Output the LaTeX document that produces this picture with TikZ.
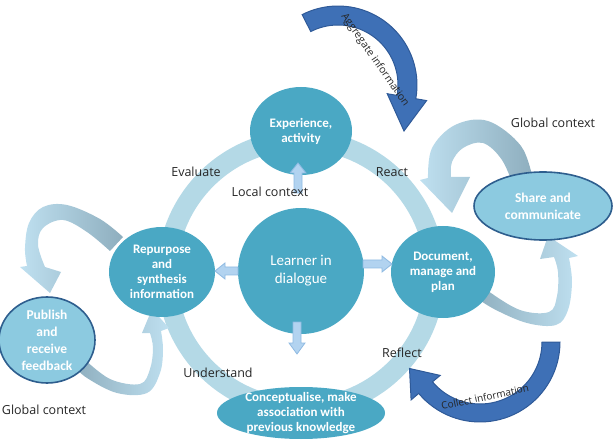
\documentclass[tikz,border=0pt]{standalone}
\usepackage{fontspec}
\setmainfont{Carlito}
\newfontfamily\hand{Open Sans}
\usetikzlibrary{shapes.geometric}
\definecolor{circ}{HTML}{4AA8C4}
\definecolor{ringc}{HTML}{B4D9E6}
\definecolor{ellfill}{HTML}{8CCAE0}
\definecolor{ellborder}{HTML}{2E5E8E}
\definecolor{darkarrow}{HTML}{3E70B6}
\definecolor{darkborder}{HTML}{2F5A98}
\definecolor{banddark}{HTML}{8EAEBE}
\definecolor{bandlight}{HTML}{BFE0F0}
\definecolor{smallfill}{HTML}{B2D3F0}
\definecolor{smallborder}{HTML}{8FBAE2}
\begin{document}
\begin{tikzpicture}[x=1pt,y=-1pt,
  circshape/.style={ellipse, fill=circ, draw=none, inner sep=0pt},
  ellshape/.style={ellipse, fill=ellfill, draw=ellborder, line width=1.6pt, inner sep=0pt},
  txt/.style={text=white, align=center, font=\bfseries\fontsize{13}{15}\selectfont, inner sep=0pt},
  lab/.style={font=\hand\fontsize{12.5}{14}\selectfont, text=black!85, inner sep=0pt},
  smallarrow/.style={fill=smallfill, draw=smallborder, line width=0.8pt},
  bigarrow/.style={fill=darkarrow, draw=darkborder, line width=1pt},
]
\useasboundingbox (0,0) rectangle (614,441);

% ring
\draw[ringc, line width=20pt] (301,274) circle (134);

% grey bands
\shade[left color=bandlight, right color=banddark]
 plot[smooth, tension=0.6] coordinates {(533,180) (521,146) (488,121) (455,125) (432,148) (428,178)}
 -- (420,180) -- (452,213) -- (470,177)
 -- plot[smooth, tension=0.6] coordinates {(451,177) (452,162) (463,148) (483,143) (502,160) (515,190)}
 -- cycle;
\shade[left color=banddark, right color=bandlight]
 plot[smooth, tension=0.6] coordinates {(474,296) (494,309) (527,323) (556,325) (568,310) (572,282) (569,258)}
 -- (578,256) -- (548,236) -- (540,259)
 -- plot[smooth, tension=0.6] coordinates {(554,257) (558,272) (557,296) (549,312) (520,310) (488,291) (484,286)}
 -- cycle;
\shade[left color=bandlight, right color=banddark]
 plot[smooth, tension=0.6] coordinates {(123,237) (100,219) (67,205) (43,207) (29,223) (25,248) (27,266)}
 -- (20,267) -- (50,293) -- (61,272)
 -- plot[smooth, tension=0.6] coordinates {(45,267) (38,245) (43,228) (63,220) (87,232) (110,251)}
 -- cycle;
\shade[left color=banddark, right color=bandlight]
 plot[smooth, tension=0.6] coordinates {(74,366) (87,378) (117,393) (147,393) (160,373) (163,350) (161,331)}
 -- (169,328) -- (152,309) -- (142,333)
 -- plot[smooth, tension=0.6] coordinates {(150,333) (153,348) (150,369) (140,384) (110,379) (83,358)}
 -- cycle;

% nodes
\node[circshape, minimum width=102pt, minimum height=88pt] (exp) at (301,131) {};
\node[txt] at (exp) {Experience,\\activity};
\node[circshape, minimum width=126pt, minimum height=126pt] (learner) at (301,271) {};
\node[txt, font=\fontsize{15}{18}\selectfont] at (learner) {Learner in\\dialogue};
\node[circshape, minimum width=106pt, minimum height=90pt] (rep) at (162,272) {};
\node[txt] at (rep) {Repurpose\\and\\synthesis\\information};
\node[circshape, minimum width=104pt, minimum height=92pt] (doc) at (443,272) {};
\node[txt] at (doc) {Document,\\manage and\\plan};
\node[ellshape, minimum width=138pt, minimum height=68pt] (share) at (543,206) {};
\node[txt, font=\bfseries\fontsize{13.5}{17}\selectfont] at (share) {Share and\\communicate};
\node[ellshape, minimum width=96pt, minimum height=86pt] (pub) at (47,340) {};
\node[txt, font=\bfseries\fontsize{13.5}{17}\selectfont] at (pub) {Publish\\and\\receive\\feedback};
\node[circshape, minimum width=168pt, minimum height=52pt] (concept) at (301,413) {};
\node[txt] at (concept) {Conceptualise, make\\association with\\previous knowledge};

% small arrows from the learner
\draw[smallarrow] (294,193)--(294,173)--(290,173)--(298,163)--(306,173)--(302,173)--(302,193)--cycle;
\draw[smallarrow] (293,322)--(293,343)--(289,343)--(297,354)--(305,343)--(301,343)--(301,322)--cycle;
\draw[smallarrow] (238,267)--(225,267)--(225,263)--(215,271)--(225,279)--(225,275)--(238,275)--cycle;
\draw[smallarrow] (363,260)--(382,260)--(382,256)--(392,264)--(382,272)--(382,268)--(363,268)--cycle;

% big dark arrows
\draw[bigarrow] plot[domain=243:370, samples=40] ({338+79*cos(\x)},{85+79*sin(\x)})
 -- (426.6,100.6) -- (404,131) -- (387.2,93.7)
 -- plot[domain=370:243, samples=40] ({338+60*cos(\x)},{85+60*sin(\x)}) -- cycle;
\draw[bigarrow] plot[domain=0:140, samples=40] ({480+80*cos(\x)},{342+80*sin(\x)})
 -- (411.1,399.9) -- (409.5,368.5) -- (440.2,375.4)
 -- plot[domain=140:0, samples=40] ({480+62*cos(\x)},{342+62*sin(\x)}) -- cycle;

\node[lab, font=\hand\fontsize{10.5}{11}\selectfont, rotate=-55] (agg) at (375,60) {Aggregate information};
\node[lab, font=\hand\fontsize{10}{11}\selectfont, rotate=12] (coll) at (485,397) {Collect information};

% labels
\node[lab] (evaluate) at (196,172) {Evaluate};
\node[lab] (react) at (392,172) {React};
\node[lab] (local) at (270,192) {Local context};
\node[lab] (global1) at (553,123) {Global context};
\node[lab] (global2) at (44,410) {Global context};
\node[lab] (understand) at (218,373) {Understand};
\node[lab] (reflect) at (402,353) {Reflect};
\end{tikzpicture}
\end{document}
